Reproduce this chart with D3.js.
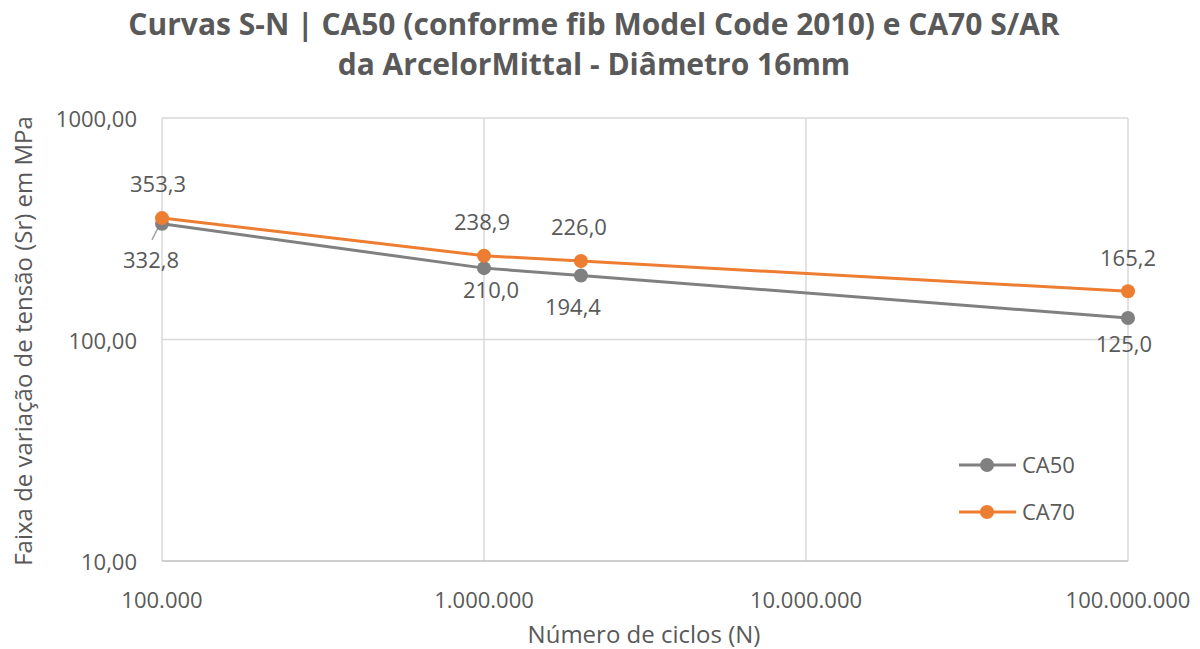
<!DOCTYPE html>
<html>
<head>
<meta charset="utf-8">
<script src="https://cdn.jsdelivr.net/npm/d3@7"></script>
<style>
  body { margin: 0; background: #fff; }
  text { font-family: "Open Sans", "Liberation Sans", sans-serif; fill: #595959; }
</style>
</head>
<body>
<div id="chart"></div>
<script>
// data
const cycles = [100000, 1000000, 2000000, 100000000]
const ca50 = [332.8, 210.0, 194.4, 125.0]
const ca70 = [353.3, 238.9, 226.0, 165.2]
const xTicks = [1e5, 1e6, 1e7, 1e8]
const yTicks = [10, 100, 1000]
const seriesNames = ['CA50', 'CA70']

const config = {
  width: 1200,
  height: 649,
  left: 162,
  right: 1128,
  top: 118,
  bottom: 561
}

const colors = { CA50: '#808080', CA70: '#ed7d31' }

const svg = d3.select('#chart').append('svg')
  .attr('width', config.width)
  .attr('height', config.height)

const x = d3.scaleLog().domain([1e5, 1e8]).range([config.left, config.right])
const y = d3.scaleLog().domain([10, 1000]).range([config.bottom, config.top])

const fmtX = d => d3.format(',')(d).replace(/,/g, '.')
const fmtY = d => d.toFixed(2).replace('.', ',')
const fmtV = d => d.toFixed(1).replace('.', ',')

// grid
svg.append('g')
  .selectAll('line')
  .data(xTicks)
  .join('line')
  .attr('x1', d => x(d)).attr('x2', d => x(d))
  .attr('y1', config.top).attr('y2', config.bottom)
  .attr('stroke', '#d9d9d9').attr('stroke-width', 1.5)

svg.append('g')
  .selectAll('line')
  .data(yTicks.slice(1))
  .join('line')
  .attr('x1', config.left).attr('x2', config.right)
  .attr('y1', d => y(d)).attr('y2', d => y(d))
  .attr('stroke', '#d9d9d9').attr('stroke-width', 1.5)

// bottom axis line
svg.append('line')
  .attr('x1', config.left).attr('x2', config.right)
  .attr('y1', config.bottom).attr('y2', config.bottom)
  .attr('stroke', '#bfbfbf').attr('stroke-width', 1.5)

// tick labels
svg.append('g')
  .selectAll('text')
  .data(xTicks)
  .join('text')
  .attr('x', d => x(d))
  .attr('y', config.bottom + 47)
  .attr('text-anchor', 'middle')
  .attr('font-size', 22)
  .text(fmtX)

svg.append('g')
  .selectAll('text')
  .data(yTicks)
  .join('text')
  .attr('x', config.left - 25)
  .attr('y', d => y(d) + 9)
  .attr('text-anchor', 'end')
  .attr('font-size', 22)
  .text(fmtY)

// titles
const title = svg.append('text')
  .attr('text-anchor', 'middle')
  .attr('font-size', 30)
  .attr('font-weight', 'bold')
title.append('tspan').attr('x', 594).attr('y', 35).text('Curvas S-N | CA50 (conforme fib Model Code 2010) e  CA70 S/AR')
title.append('tspan').attr('x', 594).attr('y', 75).text('da ArcelorMittal - Diâmetro 16mm')

svg.append('text')
  .attr('x', 644).attr('y', 643)
  .attr('text-anchor', 'middle')
  .attr('font-size', 24)
  .text('Número de ciclos (N)')

svg.append('text')
  .attr('transform', 'translate(32, 341) rotate(-90)')
  .attr('text-anchor', 'middle')
  .attr('font-size', 24)
  .text('Faixa de variação de tensão (Sr) em MPa')

// lines
const line = d3.line()
  .x(d => x(d[0]))
  .y(d => y(d[1]))

const series = [
  { name: 'CA50', values: cycles.map((c, i) => [c, ca50[i]]) },
  { name: 'CA70', values: cycles.map((c, i) => [c, ca70[i]]) }
]

// leader line for first CA50 label
svg.append('line')
  .attr('x1', x(cycles[0]) - 4).attr('y1', y(ca50[0]) + 4)
  .attr('x2', x(cycles[0]) - 10).attr('y2', y(ca50[0]) + 16)
  .attr('stroke', '#a6a6a6').attr('stroke-width', 1.5)

series.forEach(s => {
  svg.append('path')
    .datum(s.values)
    .attr('d', line)
    .attr('fill', 'none')
    .attr('stroke', colors[s.name])
    .attr('stroke-width', 3)

  svg.append('g')
    .selectAll('circle')
    .data(s.values)
    .join('circle')
    .attr('cx', d => x(d[0]))
    .attr('cy', d => y(d[1]))
    .attr('r', 7)
    .attr('fill', colors[s.name])
})

// data labels
const labelOffsets50 = [[-11, 44], [7, 30], [-8, 39], [-4, 34]]
svg.append('g')
  .selectAll('text')
  .data(series[0].values)
  .join('text')
  .attr('x', (d, i) => x(d[0]) + labelOffsets50[i][0])
  .attr('y', (d, i) => y(d[1]) + labelOffsets50[i][1])
  .attr('text-anchor', 'middle')
  .attr('font-size', 22)
  .text(d => fmtV(d[1]))

const labelOffsets70 = [[-4, -26], [-2, -26], [-2, -26], [0, -25]]
svg.append('g')
  .selectAll('text')
  .data(series[1].values)
  .join('text')
  .attr('x', (d, i) => x(d[0]) + labelOffsets70[i][0])
  .attr('y', (d, i) => y(d[1]) + labelOffsets70[i][1])
  .attr('text-anchor', 'middle')
  .attr('font-size', 22)
  .text(d => fmtV(d[1]))

// legend
const legend = svg.append('g')
  .selectAll('g')
  .data(seriesNames)
  .join('g')
  .attr('transform', (d, i) => `translate(959, ${465 + i * 47})`)

legend.append('line')
  .attr('x1', 0).attr('x2', 57)
  .attr('stroke', d => colors[d]).attr('stroke-width', 3)
legend.append('circle')
  .attr('cx', 28).attr('r', 7)
  .attr('fill', d => colors[d])
legend.append('text')
  .attr('x', 63).attr('y', 8)
  .attr('font-size', 22)
  .text(d => d)
</script>
</body>
</html>
